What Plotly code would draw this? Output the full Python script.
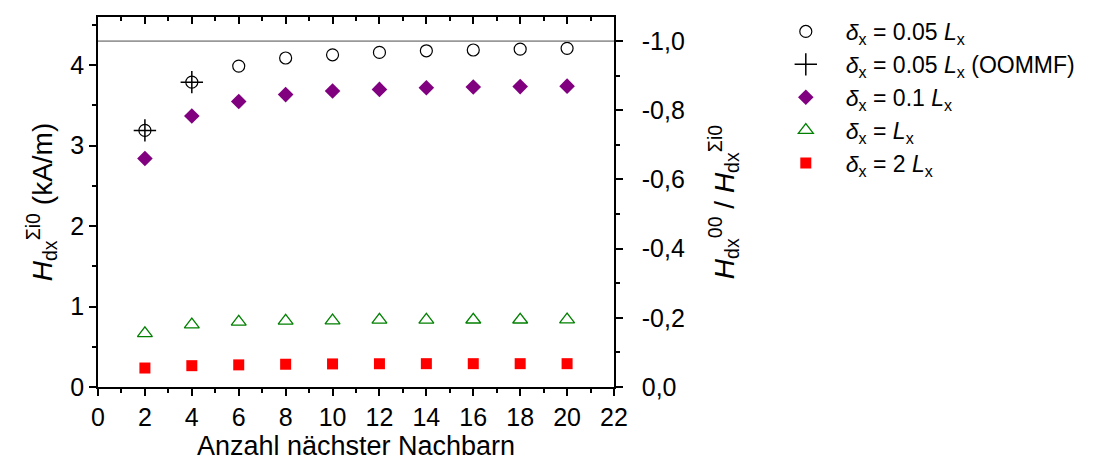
import plotly.graph_objects as go

# ---- data ----
neighbors = [2, 4, 6, 8, 10, 12, 14, 16, 18, 20]
h_005 = [3.19, 3.79, 3.99, 4.09, 4.13, 4.16, 4.18, 4.19, 4.20, 4.21]
neighbors_oommf = [2, 4]
h_005_oommf = [3.19, 3.79]
h_01 = [2.84, 3.37, 3.55, 3.635, 3.68, 3.70, 3.72, 3.73, 3.735, 3.74]
h_1 = [0.667, 0.776, 0.81, 0.823, 0.826, 0.835, 0.835, 0.836, 0.836, 0.837]
h_2 = [0.236, 0.265, 0.275, 0.283, 0.287, 0.289, 0.29, 0.29, 0.29, 0.29]

h00 = 4.3            # kA/m, corresponds to ratio -1.0
ratio_ref = -1.0
x_range = [0, 22]
y_range = [0, 4.6]
y2_range = [0, -y_range[1] / h00]

x_ticks = list(range(0, 23, 2))
y_ticks = [0, 1, 2, 3, 4]
y2_ticks = [0.0, -0.2, -0.4, -0.6, -0.8, -1.0]
y2_ticktext = ["0,0", "-0,2", "-0,4", "-0,6", "-0,8", "-1,0"]

FONT = "Liberation Sans, Arial, sans-serif"

fig = go.Figure()

# reference line at ratio -1
fig.add_trace(go.Scatter(x=x_range, y=[ratio_ref, ratio_ref], yaxis="y2", mode="lines",
                         line=dict(color="#999999", width=1.6), showlegend=False, hoverinfo="skip"))

fig.add_trace(go.Scatter(x=neighbors, y=h_005, mode="markers",
                         name="<i>δ</i><sub>x</sub> = 0.05 <i>L</i><sub>x</sub>",
                         marker=dict(symbol="circle-open", size=12, color="black", line=dict(width=1.2))))
fig.add_trace(go.Scatter(x=neighbors_oommf, y=h_005_oommf, mode="markers",
                         name="<i>δ</i><sub>x</sub> = 0.05 <i>L</i><sub>x</sub> (OOMMF)",
                         marker=dict(symbol="cross-thin", size=16, color="black", line=dict(width=1.5, color="black"))))
fig.add_trace(go.Scatter(x=neighbors, y=h_01, mode="markers",
                         name="<i>δ</i><sub>x</sub> = 0.1 <i>L</i><sub>x</sub>",
                         marker=dict(symbol="diamond", size=12, color="#800080")))
fig.add_trace(go.Scatter(x=neighbors, y=h_1, mode="markers",
                         name="<i>δ</i><sub>x</sub> = <i>L</i><sub>x</sub>",
                         marker=dict(symbol="triangle-up-open", size=13, color="#008000", line=dict(width=1.3))))
fig.add_trace(go.Scatter(x=neighbors, y=h_2, mode="markers",
                         name="<i>δ</i><sub>x</sub> = 2 <i>L</i><sub>x</sub>",
                         marker=dict(symbol="square", size=11, color="#ff0000")))

# dummy trace for top axis
fig.add_trace(go.Scatter(x=x_range, y=y_range, xaxis="x2", mode="markers",
                         marker=dict(opacity=0), showlegend=False, hoverinfo="skip"))

axis_common = dict(showline=True, linecolor="black", linewidth=1.5, showgrid=False, zeroline=False,
                   automargin=False,
                   tickcolor="black", tickwidth=1.5, tickfont=dict(size=25, color="black", family=FONT))

fig.update_layout(
    width=1094, height=465,
    margin=dict(l=98, r=480, t=17, b=78),
    paper_bgcolor="white", plot_bgcolor="white",
    font=dict(family=FONT, color="black"),
    xaxis=dict(range=x_range, tickvals=x_ticks, ticks="outside", ticklen=7,
               minor=dict(dtick=1, ticks="outside", ticklen=4, tickcolor="black", tickwidth=1.5),
               title=dict(text="Anzahl nächster Nachbarn", font=dict(size=27, family=FONT), standoff=4),
               **axis_common),
    xaxis2=dict(range=x_range, overlaying="x", side="top", tickvals=x_ticks, ticks="inside", ticklen=7,
                showticklabels=False,
                minor=dict(dtick=1, ticks="inside", ticklen=4, tickcolor="black", tickwidth=1.5),
                **axis_common),
    yaxis=dict(range=y_range, tickvals=y_ticks, ticks="outside", ticklen=7,
               minor=dict(dtick=0.5, ticks="outside", ticklen=4, tickcolor="black", tickwidth=1.5),
               title=dict(text="<i>H</i><sub>dx</sub><sup>Σi0</sup> (kA/m)", font=dict(size=28, family=FONT),
                          standoff=10),
               **axis_common),
    yaxis2=dict(range=y2_range, overlaying="y", side="right", tickvals=y2_ticks, ticktext=y2_ticktext,
                ticks="outside", ticklen=7, ticklabelstandoff=14,
                minor=dict(dtick=0.1, ticks="outside", ticklen=4, tickcolor="black", tickwidth=1.5),
                title=dict(text="<i>H</i><sub>dx</sub><sup>00</sup> / <i>H</i><sub>dx</sub><sup>Σi0</sup>",
                           font=dict(size=28, family=FONT), standoff=30),
                **axis_common),
    legend=dict(xref="container", yref="container", x=0.700, y=0.9785, xanchor="left", yanchor="top",
                itemwidth=70,
                font=dict(size=23, family=FONT, color="black"), bgcolor="rgba(0,0,0,0)",
                tracegroupgap=0),
    showlegend=True,
)

fig.write_html("out.html")
